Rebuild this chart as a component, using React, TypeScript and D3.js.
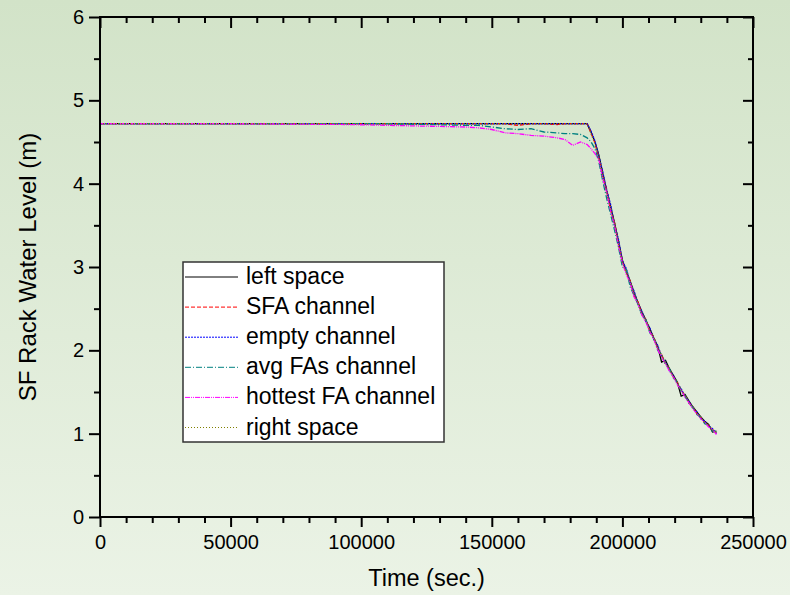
import React, { useEffect, useRef } from 'react';
import * as d3 from 'd3';

// series look
const seriesNames = ['left space', 'SFA channel', 'empty channel', 'avg FAs channel', 'hottest FA channel', 'right space'];
const seriesColors = ['#000000', '#ff0000', '#0000ff', '#008080', '#ff00ff', '#808000'];
const seriesDashes = ['', '4,2', '2,1', '6,2,1,2', '5,1,1,1,1,1', '1,2'];

// time (sec.) shared by all series
const time = [
  0, 50000, 95000, 110000, 125000, 140000, 145000, 150000, 155000, 160000,
  165000, 170000, 175000, 178000, 181000, 184000, 186500,
  188000, 189500, 191000, 192500, 194000, 195500, 197000, 198500, 200000,
  201500, 203000, 204500, 206000, 207500, 209000, 210500, 212000, 213500,
  215000, 216500, 218000, 219500, 221000, 222500, 224000, 225500, 227000,
  228500, 230000, 231500, 233000, 234500, 236000,
];

// water level (m)
const leftSpace = [
  4.72, 4.72, 4.72, 4.72, 4.72, 4.72, 4.72, 4.72, 4.72, 4.72, 4.72, 4.72, 4.72, 4.72, 4.72, 4.72, 4.72,
  4.62, 4.50, 4.34, 4.12, 3.91, 3.72, 3.53, 3.31, 3.08, 2.95, 2.83, 2.69, 2.57, 2.46, 2.36, 2.26, 2.15, 2.05,
  1.86, 1.88, 1.78, 1.70, 1.62, 1.45, 1.47, 1.39, 1.32, 1.26, 1.20, 1.15, 1.11, 1.02, 1.03,
];
const sfaChannel = [
  4.72, 4.72, 4.72, 4.72, 4.72, 4.72, 4.72, 4.72, 4.72, 4.70, 4.72, 4.72, 4.71, 4.72, 4.72, 4.72, 4.72,
  4.61, 4.49, 4.31, 4.09, 3.93, 3.68, 3.53, 3.27, 3.07, 2.93, 2.83, 2.65, 2.58, 2.43, 2.37, 2.23, 2.16, 2.02,
  1.95, 1.84, 1.78, 1.68, 1.62, 1.52, 1.46, 1.37, 1.32, 1.24, 1.20, 1.13, 1.10, 1.04, 1.01,
];
const emptyChannel = [
  4.72, 4.72, 4.72, 4.72, 4.72, 4.72, 4.72, 4.72, 4.72, 4.72, 4.72, 4.72, 4.72, 4.72, 4.72, 4.72, 4.72,
  4.63, 4.51, 4.33, 4.14, 3.92, 3.75, 3.50, 3.33, 3.07, 2.98, 2.81, 2.71, 2.55, 2.47, 2.34, 2.27, 2.13, 2.06,
  1.93, 1.86, 1.76, 1.70, 1.60, 1.54, 1.44, 1.39, 1.30, 1.26, 1.18, 1.15, 1.09, 1.06, 1.00,
];
const avgFAsChannel = [
  4.72, 4.72, 4.72, 4.72, 4.71, 4.70, 4.70, 4.68, 4.66, 4.65, 4.66, 4.62, 4.61, 4.60, 4.60, 4.59, 4.55,
  4.50, 4.42, 4.26, 4.03, 3.82, 3.63, 3.44, 3.24, 3.00, 2.97, 2.76, 2.66, 2.55, 2.42, 2.37, 2.21, 2.16, 2.00,
  1.95, 1.83, 1.78, 1.67, 1.62, 1.51, 1.46, 1.36, 1.32, 1.23, 1.20, 1.12, 1.10, 1.03, 1.02,
];
const hottestFAChannel = [
  4.72, 4.72, 4.71, 4.70, 4.69, 4.68, 4.67, 4.65, 4.61, 4.60, 4.58, 4.57, 4.55, 4.53, 4.46, 4.50, 4.47,
  4.42, 4.36, 4.29, 4.06, 3.89, 3.67, 3.50, 3.26, 3.05, 2.91, 2.81, 2.64, 2.56, 2.42, 2.34, 2.22, 2.14, 2.01,
  1.92, 1.84, 1.75, 1.68, 1.59, 1.52, 1.44, 1.37, 1.30, 1.24, 1.18, 1.14, 1.08, 1.05, 0.99,
];
const rightSpace = [
  4.72, 4.72, 4.72, 4.72, 4.72, 4.72, 4.72, 4.72, 4.72, 4.72, 4.72, 4.72, 4.72, 4.72, 4.72, 4.72, 4.72,
  4.60, 4.48, 4.32, 4.11, 3.90, 3.71, 3.52, 3.30, 3.06, 2.94, 2.82, 2.68, 2.56, 2.45, 2.35, 2.25, 2.14, 2.04,
  1.94, 1.85, 1.77, 1.69, 1.61, 1.53, 1.45, 1.38, 1.31, 1.25, 1.19, 1.14, 1.10, 1.05, 1.01,
];
const seriesValues = [leftSpace, sfaChannel, emptyChannel, avgFAsChannel, hottestFAChannel, rightSpace];

// ticks
const xTicks = [0, 50000, 100000, 150000, 200000, 250000];
const xMinor = [10000, 20000, 30000, 40000, 60000, 70000, 80000, 90000, 110000, 120000, 130000, 140000,
  160000, 170000, 180000, 190000, 210000, 220000, 230000, 240000];
const yTicks = [0, 1, 2, 3, 4, 5, 6];
const yMinor = [0.5, 1.5, 2.5, 3.5, 4.5, 5.5];

const FONT = '"Liberation Sans", Arial, Helvetica, sans-serif';

export default function App() {
  const ref = useRef<SVGSVGElement>(null);

  useEffect(() => {
    const width = 790;
    const height = 595;
    const margin = { top: 17, right: 37, bottom: 78, left: 100 };
    const svg = d3.select(ref.current);
    svg.selectAll('*').remove();

    const x = d3.scaleLinear().domain([0, 250000]).range([margin.left, width - margin.right]);
    const y = d3.scaleLinear().domain([0, 6]).range([height - margin.bottom, margin.top]);

    // green gradient background
    const grad = svg.append('defs').append('linearGradient')
      .attr('id', 'bg').attr('x1', 0).attr('y1', 0).attr('x2', 0).attr('y2', 1);
    grad.append('stop').attr('offset', '0%').attr('stop-color', '#d2e3c8');
    grad.append('stop').attr('offset', '100%').attr('stop-color', '#ebf3e6');
    svg.append('rect').attr('width', width).attr('height', height).attr('fill', 'url(#bg)');

    // curves
    const line = d3.line<number>()
      .x((d, i) => x(time[i]))
      .y((d) => y(d));
    seriesValues.forEach((vals, k) => {
      svg.append('path')
        .attr('d', line(vals))
        .attr('fill', 'none')
        .attr('stroke', seriesColors[k])
        .attr('stroke-width', 1.3)
        .attr('stroke-dasharray', seriesDashes[k] || null);
    });

    const style = (g: any) => {
      g.select('.domain').remove();
      g.selectAll('line').attr('stroke', '#000').attr('stroke-width', 2);
      g.attr('font-family', FONT).attr('font-size', 20);
      g.selectAll('text').attr('fill', '#000');
    };

    const bottom = height - margin.bottom;
    const right = width - margin.right;

    svg.append('g').attr('transform', `translate(0,${bottom})`)
      .call(d3.axisBottom(x).tickValues(xTicks).tickSize(10).tickPadding(8).tickFormat(d3.format('d')))
      .call(style);
    svg.append('g').attr('transform', `translate(0,${bottom})`)
      .call(d3.axisBottom(x).tickValues(xMinor).tickSize(6).tickFormat(() => ''))
      .call(style);
    svg.append('g').attr('transform', `translate(0,${margin.top})`)
      .call(d3.axisTop(x).tickValues(xTicks).tickSize(-11).tickFormat(() => ''))
      .call(style);
    svg.append('g').attr('transform', `translate(0,${margin.top})`)
      .call(d3.axisTop(x).tickValues(xMinor).tickSize(-6).tickFormat(() => ''))
      .call(style);
    svg.append('g').attr('transform', `translate(${margin.left},0)`)
      .call(d3.axisLeft(y).tickValues(yTicks).tickSize(11).tickPadding(5).tickFormat(d3.format('d')))
      .call(style);
    svg.append('g').attr('transform', `translate(${margin.left},0)`)
      .call(d3.axisLeft(y).tickValues(yMinor).tickSize(6).tickFormat(() => ''))
      .call(style);
    svg.append('g').attr('transform', `translate(${right},0)`)
      .call(d3.axisRight(y).tickValues(yTicks).tickSize(-10).tickFormat(() => ''))
      .call(style);
    svg.append('g').attr('transform', `translate(${right},0)`)
      .call(d3.axisRight(y).tickValues(yMinor).tickSize(-5).tickFormat(() => ''))
      .call(style);

    // frame
    svg.append('rect')
      .attr('x', margin.left).attr('y', margin.top)
      .attr('width', right - margin.left).attr('height', bottom - margin.top)
      .attr('fill', 'none').attr('stroke', '#000').attr('stroke-width', 2);

    // axis titles
    svg.append('text')
      .attr('x', (margin.left + right) / 2).attr('y', 586)
      .attr('text-anchor', 'middle')
      .attr('font-family', FONT).attr('font-size', 23.5)
      .text('Time (sec.)');
    svg.append('text')
      .attr('transform', `translate(36,${(margin.top + bottom) / 2}) rotate(-90)`)
      .attr('text-anchor', 'middle')
      .attr('font-family', FONT).attr('font-size', 24)
      .text('SF Rack Water Level (m)');

    // legend
    const lg = svg.append('g');
    lg.append('rect')
      .attr('x', 183).attr('y', 262).attr('width', 261).attr('height', 180)
      .attr('fill', '#ffffff').attr('stroke', '#333').attr('stroke-width', 1.5);
    seriesNames.forEach((name, k) => {
      const ry = 277 + k * 30.1;
      lg.append('line')
        .attr('x1', 185).attr('x2', 238).attr('y1', ry).attr('y2', ry)
        .attr('stroke', seriesColors[k]).attr('stroke-width', 1)
        .attr('stroke-dasharray', seriesDashes[k] || null);
      lg.append('text')
        .attr('x', 246).attr('y', ry + 7)
        .attr('font-family', FONT).attr('font-size', 23)
        .text(name);
    });
  }, []);

  return (
    <svg
      ref={ref}
      width={790}
      height={595}
      style={{ position: 'absolute', left: 0, top: 0, display: 'block' }}
    />
  );
}
